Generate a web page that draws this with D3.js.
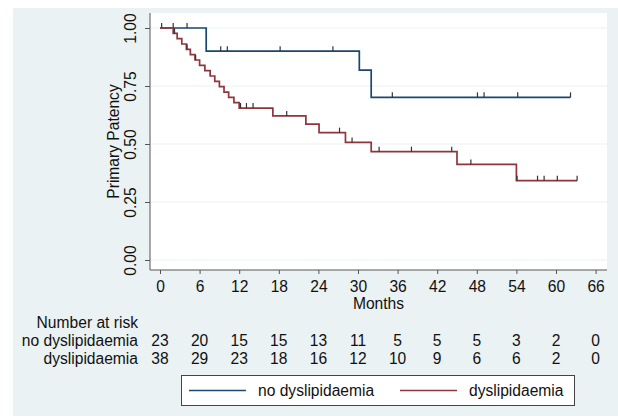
<!DOCTYPE html>
<html>
<head>
<meta charset="utf-8">
<script src="https://cdn.jsdelivr.net/npm/d3@7"></script>
<style>
  body { margin: 0; background: #fff; }
  svg { display: block; font-family: "Liberation Sans", Arial, sans-serif; }
</style>
</head>
<body>
<div id="chart"></div>
<script>
// tick labels
const xTicks = [0, 6, 12, 18, 24, 30, 36, 42, 48, 54, 60, 66];
const yTicks = [0, 0.25, 0.5, 0.75, 1];

// Kaplan-Meier steps, no dyslipidaemia
const noTimes = [0, 7.0, 30.2, 32.0, 62.2];
const noSurv = [1, 0.9, 0.818, 0.701, 0.701];
const noCensor = [0.25, 2.0, 4.1, 9.2, 10.2, 18.2, 26.2, 35.2, 48.1, 49.1, 54.2, 62.2];

// Kaplan-Meier steps, dyslipidaemia
const dysTimes = [0, 2.0, 2.6, 3.3, 4.0, 4.6, 5.3, 6.0, 6.8, 7.6, 8.3, 9.0, 9.7, 10.4, 11.2, 12.0,
    17.1, 22.1, 24.1, 28.1, 32.0, 45.0, 54.0, 63.2];
const dysSurv = [1, 0.977, 0.954, 0.931, 0.908, 0.885, 0.862, 0.839, 0.816, 0.793, 0.770, 0.747, 0.724, 0.701, 0.678, 0.655,
    0.621, 0.586, 0.549, 0.507, 0.467, 0.412, 0.342, 0.342];
const dysCensor = [2.2, 4.1, 5.4, 12.2, 13.1, 14.1, 19.2, 27.2, 29.1, 33.2, 38.1, 44.2, 47.1, 54.1, 57.2, 58.2, 60.2, 63.2];

// number at risk
const riskNo = [23, 20, 15, 15, 13, 11, 5, 5, 5, 3, 2, 0];
const riskDys = [38, 29, 23, 18, 16, 12, 10, 9, 6, 6, 2, 0];

const groups = [
    { name: "no dyslipidaemia", times: noTimes, surv: noSurv, censor: noCensor, risk: riskNo, color: "#1a476f" },
    { name: "dyslipidaemia", times: dysTimes, surv: dysSurv, censor: dysCensor, risk: riskDys, color: "#90353b" }
];

const W = 618, H = 418;
const fontSize = "15.6px";
const textColor = "#111";

const svg = d3.select("#chart").append("svg")
    .attr("width", W)
    .attr("height", H);

// graph region
svg.append("rect")
    .attr("x", 13).attr("y", 8)
    .attr("width", W - 13).attr("height", 408)
    .attr("fill", "#eaf2f3");

// plot region
const plot = { left: 150, right: 607, top: 13, bottom: 270 };
svg.append("rect")
    .attr("x", plot.left).attr("y", plot.top)
    .attr("width", plot.right - plot.left)
    .attr("height", plot.bottom - plot.top)
    .attr("fill", "#fff");

const x = d3.scaleLinear().domain([0, 66]).range([160, 595.6]);
const y = d3.scaleLinear().domain([0, 1]).range([260, 28]);

// grid
svg.append("g").selectAll("line")
    .data(yTicks)
    .join("line")
    .attr("x1", plot.left).attr("x2", plot.right)
    .attr("y1", d => y(d)).attr("y2", d => y(d))
    .attr("stroke", "#eaf2f3")
    .attr("stroke-width", 1.2);

// y axis
const yAxis = svg.append("g")
    .attr("transform", `translate(${plot.left},0)`)
    .call(d3.axisLeft(y).tickValues(yTicks).tickFormat(d3.format(".2f")).tickSize(5).tickSizeOuter(0));
yAxis.select(".domain").attr("d", `M0,${plot.top}V${plot.bottom}`).attr("stroke", "#555");
yAxis.selectAll("line").attr("stroke", "#555");
yAxis.selectAll("text")
    .attr("x", null).attr("dy", null)
    .attr("transform", "translate(-14,0) rotate(-90)")
    .attr("text-anchor", "middle")
    .attr("fill", textColor)
    .style("font-size", fontSize);

// x axis
const xAxis = svg.append("g")
    .attr("transform", `translate(0,${plot.bottom})`)
    .call(d3.axisBottom(x).tickValues(xTicks).tickSize(4).tickSizeOuter(0));
xAxis.select(".domain").attr("d", `M${plot.left},0H${plot.right}`).attr("stroke", "#555");
xAxis.selectAll("line").attr("stroke", "#555");
xAxis.selectAll("text")
    .attr("y", 21.5).attr("dy", null)
    .attr("fill", textColor)
    .style("font-size", fontSize);

// axis titles
svg.append("text")
    .attr("transform", `translate(118.5,141.5) rotate(-90)`)
    .attr("text-anchor", "middle")
    .attr("fill", textColor)
    .style("font-size", fontSize)
    .text("Primary Patency");

svg.append("text")
    .attr("x", (plot.left + plot.right) / 2)
    .attr("y", 308.5)
    .attr("text-anchor", "middle")
    .attr("fill", textColor)
    .style("font-size", fontSize)
    .text("Months");

// curves
const line = d3.line()
    .x(d => x(d[0]))
    .y(d => y(d[1]))
    .curve(d3.curveStepAfter);

groups.forEach(g => {
    const pts = g.times.map((t, i) => [t, g.surv[i]]);
    svg.append("path")
        .attr("d", line(pts))
        .attr("fill", "none")
        .attr("stroke", g.color)
        .attr("stroke-width", 1.7);

    const survAt = t => g.surv[d3.bisectRight(g.times, t) - 1];
    svg.append("g").selectAll("line")
        .data(g.censor)
        .join("line")
        .attr("x1", d => x(d)).attr("x2", d => x(d))
        .attr("y1", d => y(survAt(d))).attr("y2", d => y(survAt(d)) - 5)
        .attr("stroke", "#333")
        .attr("stroke-width", 1.2);
});

// number at risk table
svg.append("text")
    .attr("x", 138).attr("y", 328)
    .attr("text-anchor", "end")
    .attr("fill", textColor)
    .style("font-size", fontSize)
    .text("Number at risk");

groups.forEach((g, gi) => {
    const rowY = 346 + gi * 18;
    svg.append("text")
        .attr("x", 138).attr("y", rowY)
        .attr("text-anchor", "end")
        .attr("fill", textColor)
        .style("font-size", fontSize)
        .text(g.name);
    svg.append("g").selectAll("text")
        .data(g.risk)
        .join("text")
        .attr("x", (d, i) => x(xTicks[i]))
        .attr("y", rowY)
        .attr("text-anchor", "middle")
        .attr("fill", textColor)
        .style("font-size", fontSize)
        .text(d => d);
});

// legend
const legend = svg.append("g");
legend.append("rect")
    .attr("x", 181.5).attr("y", 375.5)
    .attr("width", 393).attr("height", 30)
    .attr("fill", "#fff")
    .attr("stroke", "#444")
    .attr("stroke-width", 1);

const legendX = [189, 400];
groups.forEach((g, i) => {
    legend.append("line")
        .attr("x1", legendX[i]).attr("x2", legendX[i] + 57)
        .attr("y1", 390.5).attr("y2", 390.5)
        .attr("stroke", g.color)
        .attr("stroke-width", 1.4);
    legend.append("text")
        .attr("x", legendX[i] + 69)
        .attr("y", 396)
        .attr("fill", textColor)
        .style("font-size", fontSize)
        .text(g.name);
});
</script>
</body>
</html>
